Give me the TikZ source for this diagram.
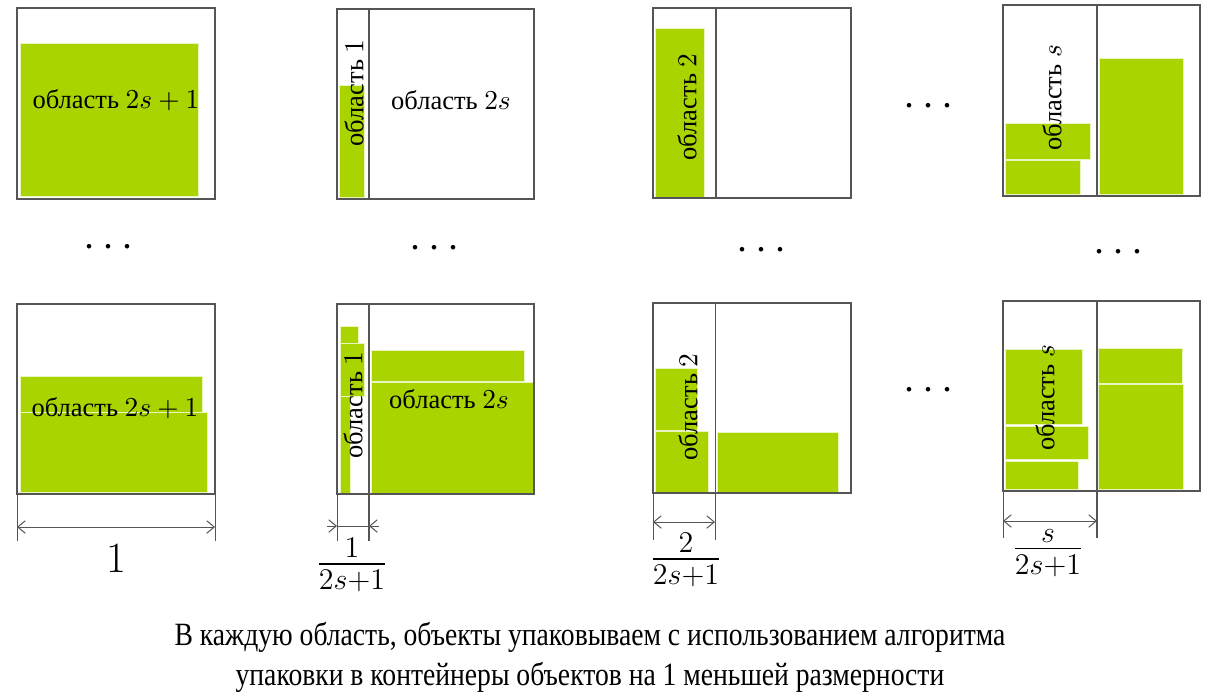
\documentclass[tikz,border=0pt]{standalone}
\usepackage[no-math]{fontspec}
\setmainfont{Liberation Serif}
\usepackage{amsmath}
\usetikzlibrary{arrows.meta}
\definecolor{packgreen}{RGB}{170,212,0}
\definecolor{binline}{RGB}{85,85,85}
\tikzset{
  bin/.style={draw=binline, line width=0.5pt},
  guide/.style={draw=binline, line width=0.4pt},
  item/.style={fill=packgreen, draw=white!75!packgreen, line width=0.4pt},
  dimline/.style={guide, {Straight Barb[length=3pt,width=5pt]}-{Straight Barb[length=3pt,width=5pt]}},
  tipin/.style={guide, -{Straight Barb[length=3pt,width=5pt]}},
  area/.style={inner sep=0pt, font=\fontsize{10.6}{12.5}\selectfont},
  vdots/.style={inner sep=0pt, font=\LARGE},
}
\begin{document}
\begin{tikzpicture}[x=0.4pt, y=-0.4pt]
    \useasboundingbox (0,0) rectangle (1213,694);
    % bins of column 1
    \draw[item] (20,43) rectangle (198,196);
    \draw[bin] (17,8) rectangle (215,199);
    \node[area] (a1) at (116,100) {область $2s+1$};
    \draw[item] (20,376) rectangle (202,412);
    \draw[item] (20,412) rectangle (207,492);
    \draw[bin] (17,304) rectangle (215,494);
    \node[area] (a2) at (115,408) {область $2s+1$};
    \coordinate (e1l) at (17,541);
    \coordinate (e1r) at (215,541);
    \coordinate (d1l) at (17,527);
    \coordinate (d1r) at (215,527);
    \draw[guide] (17,494) -- (e1l);
    \draw[guide] (215,494) -- (e1r);
    \draw[dimline] (d1l) -- (d1r);
    \node (w1) at (116,559) {\LARGE $1$};
    % bins of column 2
    \draw[item] (339,85) rectangle (364,197);
    \draw[bin] (337,9) rectangle (534,199);
    \draw[bin] (369,9) -- (369,199);
    \node[area, rotate=90] (b1) at (354,93) {область $1$};
    \node[area] (b2) at (451,100) {область $2s$};
    \draw[item] (340,326) rectangle (358,343);
    \draw[item] (340,343) rectangle (364,396);
    \draw[item] (340,396) rectangle (350,493);
    \draw[item] (371,350) rectangle (524,381);
    \draw[item] (371,382) rectangle (533,493);
    \draw[bin] (337,304) rectangle (534,494);
    \node[area, rotate=90] (b3) at (353,405) {область $1$};
    \node[area] (b4) at (449,399) {область $2s$};
    \coordinate (e2l) at (337,541);
    \coordinate (e2r) at (369,541);
    \coordinate (d2l) at (337,526);
    \coordinate (d2r) at (369,526);
    \coordinate (o2l) at (327,526);
    \coordinate (o2r) at (379,526);
    \draw[guide] (337,494) -- (e2l);
    \draw[bin] (369,304) -- (e2r);
    \draw[tipin] (o2l) -- (d2l);
    \draw[guide] (d2l) -- (d2r);
    \draw[tipin] (o2r) -- (d2r);
    \node (w2) at (352,565) {\LARGE $\frac{1}{2s+1}$};
    % bins of column 3
    \draw[item] (655,28) rectangle (704,197);
    \draw[bin] (653,8) rectangle (851,198);
    \draw[bin] (716,8) -- (716,198);
    \node[area, rotate=90] (c1) at (687,107) {область $2$};
    \draw[item] (655,368) rectangle (697,430);
    \draw[item] (655,431) rectangle (708,492);
    \draw[item] (717,432) rectangle (838,492);
    \draw[bin] (653,303) rectangle (851,493);
    \node[area, rotate=90] (c2) at (688,407) {область $2$};
    \coordinate (e3l) at (653,540);
    \coordinate (e3r) at (715,540);
    \coordinate (d3l) at (653,522);
    \coordinate (d3r) at (715,522);
    \draw[guide] (653,493) -- (e3l);
    \draw[guide] (715,303) -- (e3r);
    \draw[dimline] (d3l) -- (d3r);
    \node (w3) at (686,560) {\LARGE $\frac{2}{2s+1}$};
    % bins of column 4
    \draw[item] (1005,123) rectangle (1090,159);
    \draw[item] (1005,160) rectangle (1080,194);
    \draw[item] (1099,58) rectangle (1183,194);
    \draw[bin] (1003,5) rectangle (1200,196);
    \draw[bin] (1097,5) -- (1097,196);
    \node[area, rotate=90] (s1) at (1052,98) {область $s$};
    \draw[item] (1005,349) rectangle (1082,424);
    \draw[item] (1005,426) rectangle (1088,459);
    \draw[item] (1005,461) rectangle (1078,489);
    \draw[item] (1098,348) rectangle (1182,383);
    \draw[item] (1098,384) rectangle (1183,489);
    \draw[bin] (1003,301) rectangle (1200,491);
    \node[area, rotate=90] (s2) at (1045,398) {область $s$};
    \coordinate (e4l) at (1003,538);
    \coordinate (e4r) at (1097,538);
    \coordinate (d4l) at (1003,521);
    \coordinate (d4r) at (1097,521);
    \draw[guide] (1003,491) -- (e4l);
    \draw[bin] (1097,301) -- (e4r);
    \draw[dimline] (d4l) -- (d4r);
    \node (w4) at (1048,553) {\LARGE $\frac{s}{2s+1}$};
    % omitted bins
    \node[vdots] (m1) at (112,248) {$\cdots$};
    \node[vdots] (m2) at (438,249) {$\cdots$};
    \node[vdots] (m3) at (765,251) {$\cdots$};
    \node[vdots] (m4) at (1122,253) {$\cdots$};
    \node[vdots] (m5) at (932,107) {$\cdots$};
    \node[vdots] (m6) at (932,391) {$\cdots$};
    \node[align=center, font=\fontsize{13}{16}\selectfont, xscale=0.85] (cap) at (590,657)
        {В каждую область, объекты упаковываем с использованием алгоритма\\
         упаковки в контейнеры объектов на 1 меньшей размерности};
\end{tikzpicture}
\end{document}
